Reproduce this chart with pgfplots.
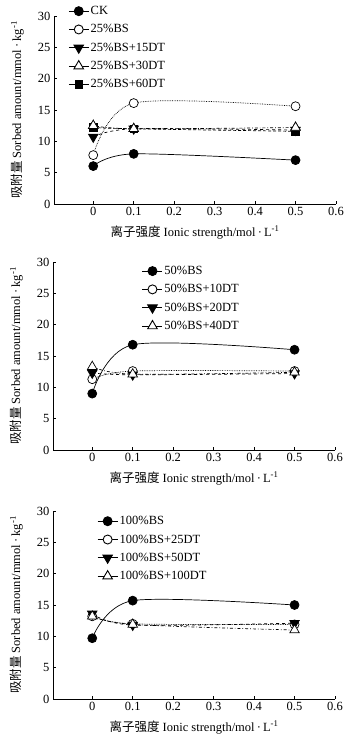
\documentclass[border=0pt]{standalone}
\usepackage{fontspec}
\setmainfont{Liberation Serif}
\newfontfamily\cjk{Noto Sans CJK SC}
\usepackage{pgfplots}
\pgfplotsset{compat=1.18}
\pgfplotsset{
  panel/.style={
    scale only axis, width=282pt, height=188pt,
    xmin=-0.097, xmax=0.6, ymin=0, ymax=30,
    axis x line=bottom, axis y line=left, axis line style={-, line width=0.6pt},
    xtick={0,0.1,0.2,0.3,0.4,0.5,0.6}, ytick={0,5,...,30},
    tick align=inside, major tick length=3pt, tick style={black, line width=0.6pt},
    xticklabel style={/pgf/number format/fixed, /pgf/number format/precision=1},
    /pgf/number format/assume math mode=true,
    tick label style={font=\fontsize{12.5}{14}\selectfont},
    label style={font=\fontsize{12.5}{14}\selectfont},
    xlabel={{\cjk 离子强度} Ionic strength/mol\,·\,L\textsuperscript{-1}},
    ylabel={{\cjk 吸附量} Sorbed amount/mmol\,·\,kg\textsuperscript{-1}},
    xlabel style={at={(axis description cs:0.5,-0.15)}, anchor=center},
    ylabel style={at={(axis description cs:-0.13,0.5)}, anchor=center},
    legend style={draw=none, fill=none, font=\fontsize{12.5}{14}\selectfont, anchor=north west, inner sep=0pt,
      nodes={inner sep=1.5pt, text height=9pt, text depth=2pt}, row sep=4.3pt},
    legend cell align=left,
    legend image code/.code={\draw[mark repeat=2,mark phase=2,#1,solid,line width=0.9pt] plot coordinates {(0pt,0pt) (10pt,0pt) (20pt,0pt)};},
    every axis plot/.append style={black, line width=0.7pt, smooth},
  },
  mfc/.style={mark=*, mark size=4.5pt, mark options={solid, fill=black}},
  moc/.style={mark=*, mark size=4.5pt, mark options={solid, fill=white}},
  mtd/.style={mark=triangle*, mark size=5.5pt, mark options={solid, fill=black, rotate=180}},
  mto/.style={mark=triangle*, mark size=5.5pt, mark options={solid, fill=white}},
  msq/.style={mark=square*, mark size=3.8pt, mark options={solid, fill=black}},
}
\begin{document}
\begin{tikzpicture}
\useasboundingbox (0,0) rectangle (356pt,-738pt);
% Panel 1
\begin{axis}[panel, at={(54pt,-204pt)}, anchor=south west,
  legend style={at={(rel axis cs:0.05,1.064)}}]
\addplot[solid, mfc] coordinates {(0,6.05) (0.1,8.0) (0.5,7.0)};
\addlegendentry{CK}
\addplot[densely dotted, moc] coordinates {(0,7.8) (0.1,16.1) (0.5,15.6)};
\addlegendentry{25\%BS}
\addplot[dashed, mtd] coordinates {(0,10.7) (0.1,12.0) (0.5,11.8)};
\addlegendentry{25\%BS+15DT}
\addplot[dash dot, mto] coordinates {(0,12.5) (0.1,12.0) (0.5,12.2)};
\addlegendentry{25\%BS+30DT}
\addplot[densely dashed, msq] coordinates {(0,12.2) (0.1,12.0) (0.5,11.6)};
\addlegendentry{25\%BS+60DT}
\addplot[only marks, mto, forget plot] coordinates {(0,12.5) (0.1,12.0) (0.5,12.2)};
\end{axis}
% Panel 2
\begin{axis}[panel, at={(53pt,-450pt)}, anchor=south west,
  legend style={at={(rel axis cs:0.315,0.99)}}]
\addplot[solid, mfc] coordinates {(0,9.0) (0.1,16.8) (0.5,16.0)};
\addlegendentry{50\%BS}
\addplot[densely dotted, moc] coordinates {(0,11.3) (0.1,12.6) (0.5,12.6)};
\addlegendentry{50\%BS+10DT}
\addplot[dashed, mtd] coordinates {(0,12.3) (0.1,12.0) (0.5,12.2)};
\addlegendentry{50\%BS+20DT}
\addplot[dash dot, mto] coordinates {(0,13.3) (0.1,12.1) (0.5,12.4)};
\addlegendentry{50\%BS+40DT}
\end{axis}
% Panel 3
\begin{axis}[panel, at={(53pt,-699pt)}, anchor=south west,
  legend style={at={(rel axis cs:0.156,0.984)}}]
\addplot[solid, mfc] coordinates {(0,9.7) (0.1,15.7) (0.5,15.0)};
\addlegendentry{100\%BS}
\addplot[densely dotted, moc] coordinates {(0,13.2) (0.1,12.0) (0.5,11.9)};
\addlegendentry{100\%BS+25DT}
\addplot[dashed, mtd] coordinates {(0,13.6) (0.1,11.8) (0.5,12.1)};
\addlegendentry{100\%BS+50DT}
\addplot[dash dot, mto] coordinates {(0,13.2) (0.1,11.9) (0.5,11.0)};
\addlegendentry{100\%BS+100DT}
\end{axis}
\end{tikzpicture}
\end{document}
